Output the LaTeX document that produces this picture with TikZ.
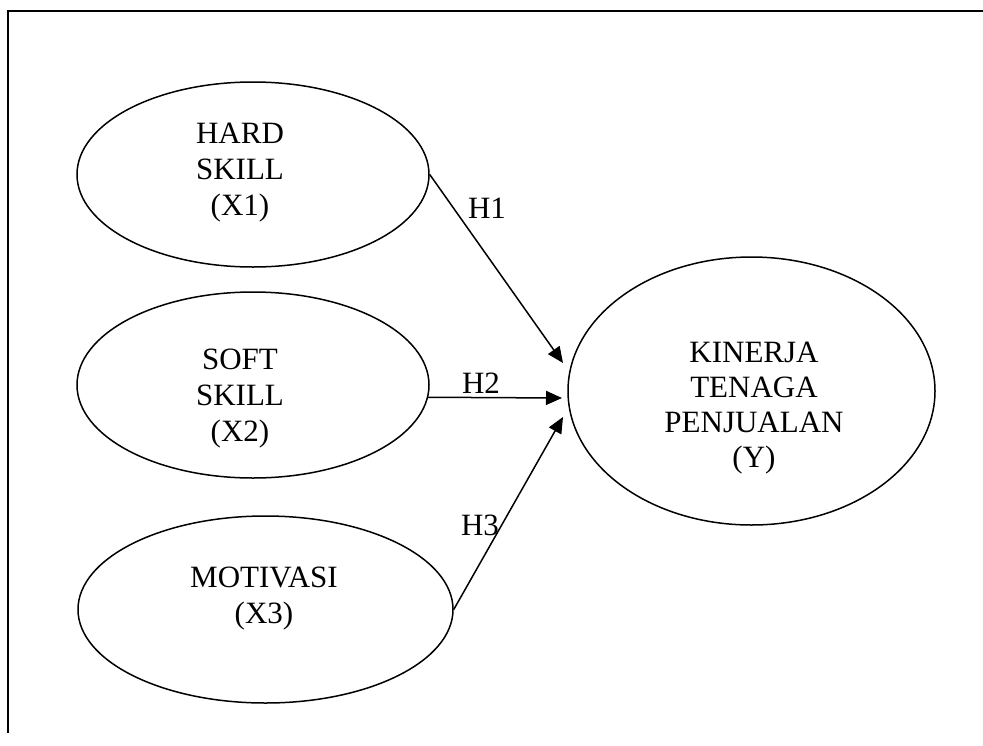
\documentclass[tikz,border=0pt]{standalone}
\usepackage{fontspec}
\setmainfont{Liberation Serif}
\usetikzlibrary{shapes.geometric,arrows.meta}
\begin{document}
\begin{tikzpicture}[x=1pt,y=-1pt,
  oval/.style={ellipse,draw,line width=1.5pt,inner sep=0pt},
  txt/.style={align=center,inner sep=0pt,anchor=north,font=\fontsize{31}{36}\selectfont},
  hlab/.style={inner sep=0pt,font=\fontsize{31}{36}\selectfont},
  arr/.style={line width=1.5pt,-{Triangle[length=16pt,width=14pt]}},
  frame/.style={line width=2pt}]
\useasboundingbox (0,0) rectangle (983,745);
\draw[frame] (983,11) -- (8,11) -- (8,733);
% ellipses
\node[oval,minimum width=352pt,minimum height=185pt] (e1) at (253,174.5) {};
\node[oval,minimum width=352pt,minimum height=186pt] (e2) at (253,385) {};
\node[oval,minimum width=375pt,minimum height=187pt] (e3) at (265.5,609.5) {};
\node[oval,minimum width=367pt,minimum height=268pt] (e4) at (751.5,391) {};
% texts
\node[txt] (t1) at (240,123) {HARD\\SKILL\\(X1)};
\node[txt] (t2) at (240,349) {SOFT\\SKILL\\(X2)};
\node[txt] (t3) at (264,567) {MOTIVASI\\(X3)};
\node[txt,font=\fontsize{31}{35}\selectfont] (t4) at (754,342) {KINERJA\\TENAGA\\PENJUALAN\\(Y)};
% arrow ends
\coordinate (p1) at (563,363);
\coordinate (p2) at (562,398);
\coordinate (p3) at (563,417);
\draw[arr] (e1.east) -- (p1);
\draw[arr] (e2.-4) -- (p2);
\draw[arr] (e3.east) -- (p3);
% labels
\node[hlab,anchor=north] (h1) at (487,198) {H1};
\node[hlab,anchor=north] (h2) at (481,373) {H2};
\node[hlab,anchor=north] (h3) at (480,515) {H3};
\end{tikzpicture}
\end{document}
